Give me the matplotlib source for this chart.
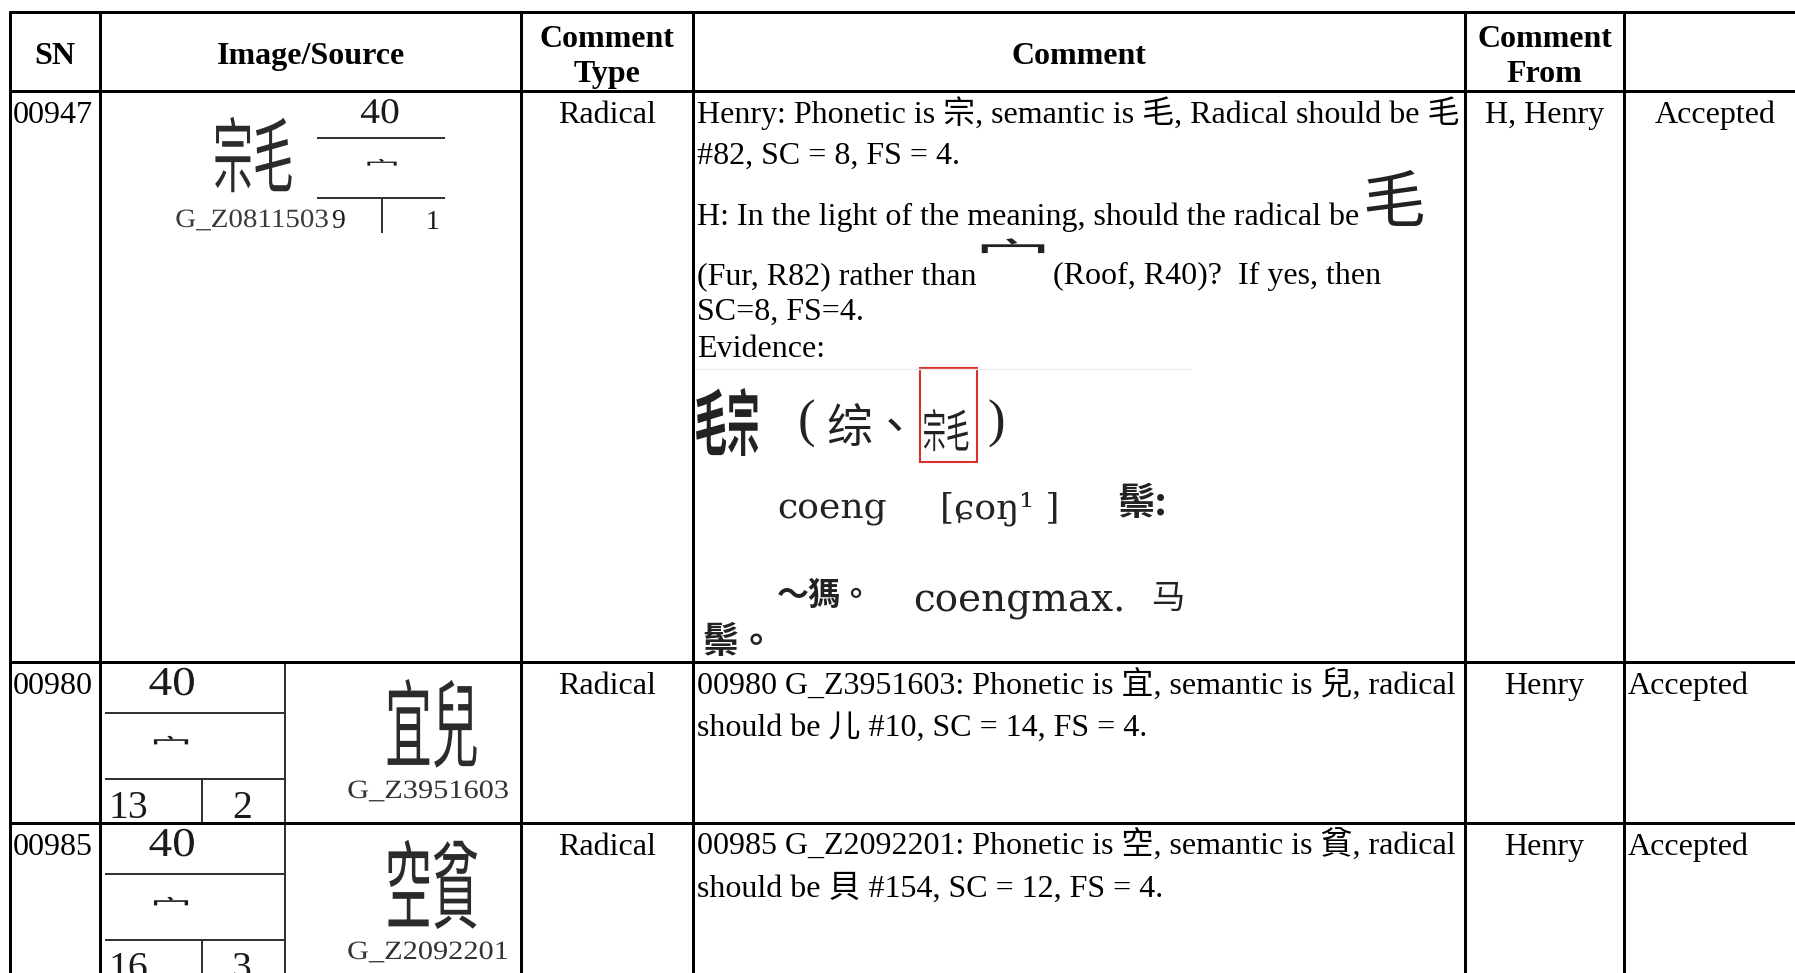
import matplotlib
matplotlib.use('Agg')
import matplotlib.pyplot as plt
from matplotlib import patheffects
from matplotlib.patches import Rectangle
from matplotlib.transforms import Affine2D


#### table content ####
headers = ['SN', 'Image/Source', 'Comment\nType', 'Comment', 'Comment\nFrom', '']
sn = ['00947', '00980', '00985']
sourceIds = ['G_Z0811503', 'G_Z3951603', 'G_Z2092201']
glyphParts = ['宗毛', '宜兒', '空貧']   # components of the new ideographs
radicalNo = ['40', '40', '40']
radicalChar = '宀'
strokeCount = ['9', '13', '16']
firstStroke = ['1', '2', '3']
commentType = ['Radical', 'Radical', 'Radical']
commentFrom = ['H, Henry', 'Henry', 'Henry']
status = ['Accepted', 'Accepted', 'Accepted']

comment1 = ['Henry: Phonetic is 宗, semantic is 毛, Radical should be 毛',
            '#82, SC = 8, FS = 4.',
            'H: In the light of the meaning, should the radical be',
            '(Fur, R82) rather than',
            'SC=8, FS=4.',
            'Evidence:']
comment1Tail = '(Roof, R40)?  If yes, then'
bigFur = '毛'
comment2 = ['00980 G_Z3951603: Phonetic is 宜, semantic is 兒, radical',
            'should be 儿 #10, SC = 14, FS = 4.']
comment3 = ['00985 G_Z2092201: Phonetic is 空, semantic is 貧, radical',
            'should be 貝 #154, SC = 12, FS = 4.']

# dictionary scan used as evidence
evHead = '毛宗'
evVariant = '综、'
evBoxed = '宗毛'
evReading = 'coeng'
evIpa = '[ɕoŋ¹ ]'
evMeaning = '鬃:'
evExample = '～獁。'
evExampleZh = 'coengmax.'
evGloss = ['马', '鬃。']

#### layout (pixels) ####
colX = [10, 100, 521, 693, 1465, 1624]
rowY = [12, 90.5, 662, 823]

SERIF = ['Liberation Serif', 'Noto Sans CJK TC']
CJK = ['Noto Sans CJK TC', 'DejaVu Sans']
SCAN = ['DejaVu Serif', 'Noto Sans CJK SC']


# stretch the drawn glyphs of a text around their centre
class Squash(patheffects.AbstractPathEffect):
    def __init__(self, sx=1.0, sy=1.0):
        super().__init__()
        self.sx = sx
        self.sy = sy

    def draw_path(self, renderer, gc, tpath, affine, rgbFace=None):
        bb = tpath.get_extents(affine)
        cx = (bb.x0 + bb.x1) / 2
        cy = (bb.y0 + bb.y1) / 2
        sq = Affine2D().translate(-cx, -cy).scale(self.sx, self.sy).translate(cx, cy)
        renderer.draw_path(gc, tpath, affine + sq, rgbFace)


fig = plt.figure(figsize=(17.95, 9.73), dpi=100)
ax = fig.add_axes([0, 0, 1, 1])
ax.set_xlim(0, 1795)
ax.set_ylim(973, 0)
ax.axis('off')

FS = 23      # body text, pt
LW = 2.16    # table rules
BOX = '#333333'
DARK = '#1a1a1a'

# table grid
for y in rowY:
    ax.plot([colX[0] - 1, 1795], [y, y], color='k', lw=LW, solid_capstyle='butt', zorder=5)
for x in colX:
    ax.plot([x, x], [rowY[0] - 1, 973], color='k', lw=LW, solid_capstyle='butt', zorder=5)

# header row
hx = [(colX[i] + colX[i + 1]) / 2 for i in range(5)] + [1715]
for i, h in enumerate(headers):
    if '\n' in h:
        top, bot = h.split('\n')
        ax.text(hx[i], 47, top, fontsize=FS, family=SERIF, weight='bold', ha='center', va='baseline')
        ax.text(hx[i], 82, bot, fontsize=FS, family=SERIF, weight='bold', ha='center', va='baseline')
    else:
        ax.text(hx[i], 64, h, fontsize=FS, family=SERIF, weight='bold', ha='center', va='baseline')

# simple columns
base = [123, 694, 855]
for i in range(3):
    ax.text(13, base[i], sn[i], fontsize=FS, family=SERIF, va='baseline')
    ax.text(hx[2], base[i], commentType[i], fontsize=FS, family=SERIF, ha='center', va='baseline')
    ax.text(hx[4], base[i], commentFrom[i], fontsize=FS, family=SERIF, ha='center', va='baseline')
    if i == 0:
        ax.text(1715, base[i], status[i], fontsize=FS, family=SERIF, ha='center', va='baseline')
    else:
        ax.text(1628, base[i], status[i], fontsize=FS, family=SERIF, va='baseline')

# comments
for y, line in zip([123, 164, 225, 284, 320, 357], comment1):
    ax.text(697, y, line, fontsize=FS, family=SERIF, va='baseline')
ax.text(1053, 284, comment1Tail, fontsize=FS, family=SERIF, va='baseline')
ax.text(1393, 204, bigFur, fontsize=45, family=CJK, color='#222222', ha='center', va='center')
ax.text(1013, 259, radicalChar, fontsize=26, family=CJK, color='#222222', ha='center', va='center',
        path_effects=[Squash(2.1, 1.07)])
for y, line in zip([694, 736], comment2):
    ax.text(697, y, line, fontsize=FS, family=SERIF, va='baseline')
for y, line in zip([855, 897], comment3):
    ax.text(697, y, line, fontsize=FS, family=SERIF, va='baseline')

# evidence scan
ink = '#222222'
ax.plot([697, 1190], [369, 369], color='#ececec', lw=1)
ax.text(727, 425, evHead, fontsize=23.4, family=CJK, weight='bold', color=ink, ha='center', va='center',
        path_effects=[Squash(1.0, 2.22)])
ax.text(806, 424, '(', fontsize=38, family='Liberation Serif', color=ink, ha='center', va='center')
ax.text(826, 429, evVariant, fontsize=33, family=CJK, color=ink, va='center')
ax.text(946, 432.5, evBoxed, fontsize=16.8, family=CJK, color=ink, ha='center', va='center',
        path_effects=[Squash(1.0, 1.96)])
ax.add_patch(Rectangle((920, 368), 57, 94, fill=False, edgecolor='#d9302c', lw=1.5))
ax.text(996, 424, ')', fontsize=38, family='Liberation Serif', color=ink, ha='center', va='center')
ax.text(777, 519, evReading, fontsize=26, family=SCAN, color=ink, va='baseline')
ax.text(940, 519, evIpa, fontsize=26, family=SCAN, color=ink, va='baseline')
ax.text(1117, 504, evMeaning, fontsize=27, family=CJK, weight='bold', color=ink, va='center')
ax.text(777, 596, evExample, fontsize=23, family=CJK, weight='bold', color=ink, va='center')
ax.text(913, 612, evExampleZh, fontsize=28, family=SCAN, color=ink, va='baseline')
ax.text(1151, 598, evGloss[0], fontsize=24, family=CJK, color=ink, va='center')
ax.text(702, 642, evGloss[1], fontsize=26, family=CJK, weight='bold', color=ink, va='center')

# image/source, row 1: glyph + id on the left, radical box on the right
ax.text(253, 159, glyphParts[0], fontsize=28.9, family=CJK, color='#2b2b2b', ha='center', va='center',
        path_effects=[Squash(1.0, 2.04)])
ax.text(252, 227, sourceIds[0], fontsize=19, family=SERIF, color='#3a3a3a', ha='center', va='baseline',
        path_effects=[Squash(1.1, 1.0)])
ax.text(380, 123, radicalNo[0], fontsize=26, family=SERIF, color=DARK, ha='center', va='baseline',
        path_effects=[Squash(1.1, 1.0)])
ax.plot([318, 444], [138, 138], color=BOX, lw=1.44)
ax.text(382, 171, radicalChar, fontsize=17, family=CJK, color=DARK, ha='center', va='center',
        path_effects=[Squash(1.5, 0.75)])
ax.plot([318, 444], [198, 198], color=BOX, lw=1.44)
ax.plot([382, 382], [198, 232], color=BOX, lw=1.44)
ax.text(338, 228, strokeCount[0], fontsize=20, family=SERIF, color=DARK, ha='center', va='baseline')
ax.text(433, 229, firstStroke[0], fontsize=20, family=SERIF, color=DARK, ha='center', va='baseline')

# image/source, rows 2 and 3: radical box on the left, glyph + id on the right
for i in (1, 2):
    dy = 161 * (i - 1)
    ax.text(172, 695 + dy, radicalNo[i], fontsize=29.5, family=SERIF, color=DARK, ha='center', va='baseline',
            path_effects=[Squash(1.15, 1.0)])
    ax.plot([106, 285], [713 + dy, 713 + dy], color=BOX, lw=1.44)
    ax.text(171, 750 + dy, radicalChar, fontsize=20, family=CJK, color=DARK, ha='center', va='center',
            path_effects=[Squash(1.49, 0.81)])
    ax.plot([106, 285], [779 + dy, 779 + dy], color=BOX, lw=1.44)
    ax.plot([202, 202], [779 + dy, 821 + dy], color=BOX, lw=1.44)
    ax.plot([285, 285], [664 + dy, 821 + dy], color=BOX, lw=1.44)
    ax.text(108, 818 + dy, strokeCount[i], fontsize=28.5, family=SERIF, color=DARK, va='baseline')
    ax.text(242, 818 + dy, firstStroke[i], fontsize=28.5, family=SERIF, color=DARK, ha='center', va='baseline')
    ax.text(432, 728 + dy, glyphParts[i], fontsize=33.8, family=CJK, color='#2b2b2b', ha='center', va='center',
            path_effects=[Squash(1.0, 2.04)])
    ax.text(428, 798 + dy, sourceIds[i], fontsize=19, family=SERIF, color='#333333', ha='center', va='baseline',
            path_effects=[Squash(1.15, 1.0)])

fig.savefig('out.png', dpi=100)
